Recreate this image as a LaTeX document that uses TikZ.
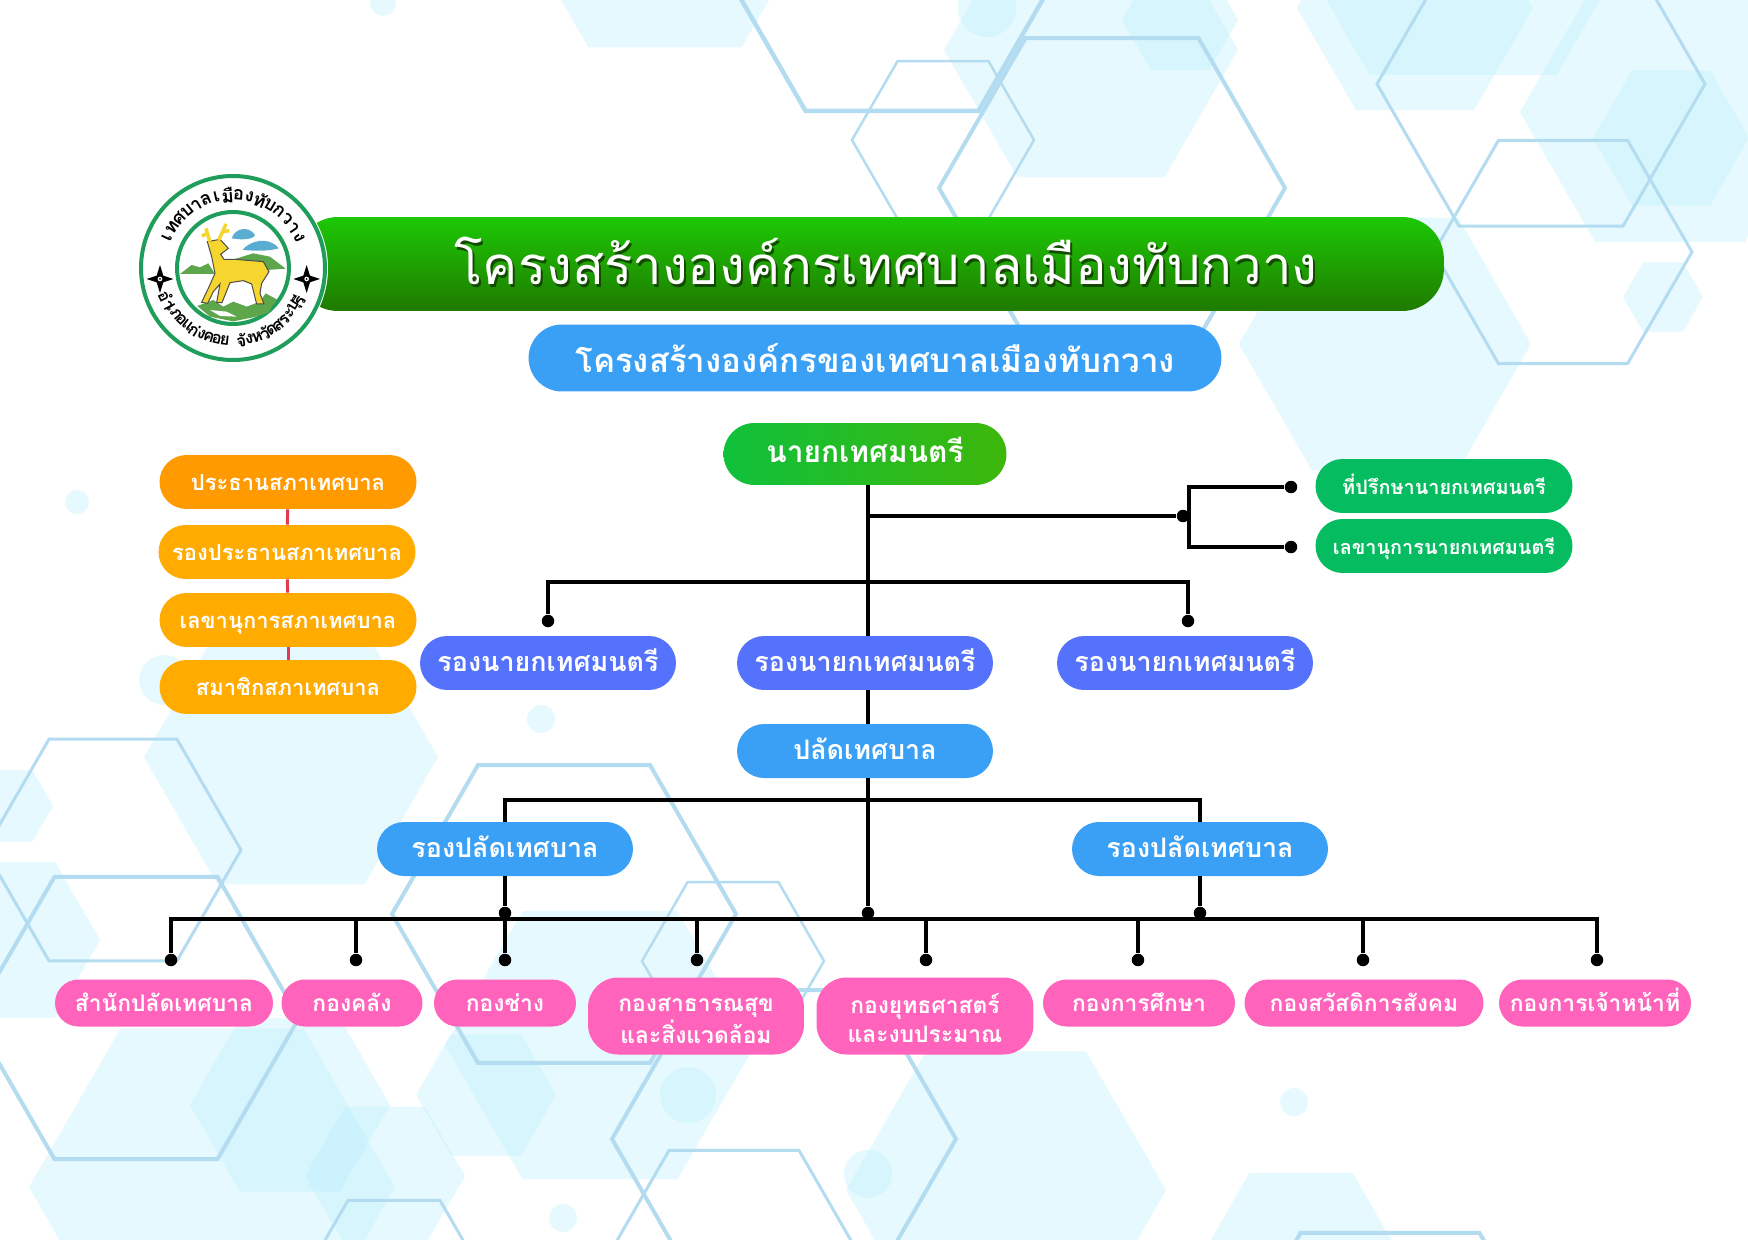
\documentclass[tikz,border=0pt]{standalone}
\usepackage{fontspec}
\newfontfamily\thaifont[Script=Thai]{Loma}
\definecolor{hexLine}{HTML}{B4DCF0}
\definecolor{hexPale}{HTML}{BEF1FD}
\definecolor{ringGreen}{HTML}{1E9E5A}
\definecolor{blueFill}{HTML}{39A0F5}
\definecolor{viceFill}{HTML}{5472FB}
\definecolor{amberFill}{HTML}{FFAB00}
\definecolor{orangeFill}{HTML}{FF9A00}
\definecolor{pinkFill}{HTML}{FF63BC}
\definecolor{greenFill}{HTML}{05BC60}
\definecolor{redLine}{HTML}{E03A50}
\definecolor{barTop}{HTML}{1DC805}
\definecolor{barBottom}{HTML}{1F7A00}
\definecolor{mayorLeft}{HTML}{10C13C}
\definecolor{mayorRight}{HTML}{3DB70A}
\definecolor{hillGreen}{HTML}{5EA64B}
\definecolor{cloudBlue}{HTML}{5AADD0}
\definecolor{deerYellow}{HTML}{F5D52E}
\newcommand{\hexPath}[3]{(#1-#3,#2) -- (#1-#3/2,#2-.866*#3) -- (#1+#3/2,#2-.866*#3) -- (#1+#3,#2) -- (#1+#3/2,#2+.866*#3) -- (#1-#3/2,#2+.866*#3) -- cycle}
\begin{document}
\begin{tikzpicture}[x=0.02cm, y=-0.02cm,
    pillBase/.style={rectangle, rounded corners=0.54cm, text=white, align=center, inner sep=0pt, minimum height=1.08cm},
    pillStyle/.style={pillBase, text height=0.42cm, text depth=0.1cm},
    blueStyle/.style={pillStyle, fill=blueFill, minimum width=5.12cm, font=\thaifont\bfseries\fontsize{15.3}{20}\selectfont},
    viceStyle/.style={blueStyle, fill=viceFill},
    amberStyle/.style={pillStyle, fill=amberFill, minimum width=5.14cm, font=\thaifont\bfseries\fontsize{12.5}{16}\selectfont},
    greenStyle/.style={amberStyle, fill=greenFill, font=\thaifont\bfseries\fontsize{11.3}{16}\selectfont},
    pinkStyle/.style={pillStyle, fill=pinkFill, minimum height=0.94cm, rounded corners=0.47cm, font=\thaifont\bfseries\fontsize{13}{17}\selectfont},
    pinkTall/.style={pillBase, fill=pinkFill, minimum height=1.54cm, rounded corners=0.6cm, font=\thaifont\bfseries\fontsize{13}{16.5}\selectfont},
    dotStyle/.style={circle, fill=black, inner sep=0pt, minimum size=0.25cm},
    lineStyle/.style={draw=black, line width=0.07cm},
    paleHex/.style={fill=hexPale, opacity=0.38},
    starStyle/.style={fill=black},
    ringText/.style={text=black, inner sep=0pt, font=\thaifont\bfseries\fontsize{10.5}{10}\selectfont},
    ringLow/.style={ringText, font=\thaifont\bfseries\fontsize{9.5}{10}\selectfont}]
    \useasboundingbox (0,0) rectangle (1748,1240);
    % background
    \begin{scope}
        \clip (0,0) rectangle (1748,1240);
        \fill[white] (0,0) rectangle (1748,1240);
        \foreach \cx/\cy/\r in {665/-85/153, 1091/50/147, 1180/20/58, 1415/8/118, 1463/-87/187, 1670/112/150, 1671/138/78, 1663/297/40, 1385/344/146,
                                291/757/147, 12/806/41, 10/940/90, 486/1095/70, 290/1105/100, 212/1187/183, 385/1176/80, 600/1045/155, 1006/1190/160, 1301/1262/103}
            \fill[paleHex] \hexPath{\cx}{\cy}{\r};
        \foreach \cx/\cy/\r in {987/8/29, 383/3/13, 77/502/12, 164/680/25, 541/719/14, 688/1095/28, 563/1218/14, 868/1174/24, 1294/1102/14}
            \fill[paleHex] (\cx,\cy) circle[radius=\r];
        \foreach \cx/\cy/\r/\w in {892/-39/173/4.5, 943/140/91/2.5, 1112/188/173/4, 1541/84/164/3, 1563/252/129/3,
                                   113/850/128/3, 136/1018/163/4, 564/914/172/4, 733/961/91/2.5, 784/1139/172/4, 734/1263/130/3, 394/1280/92/3, 1390/1388/179/4}
            \draw[hexLine, line width=\w*0.02cm] \hexPath{\cx}{\cy}{\r};
    \end{scope}

    % title bars
    \node[rectangle, rounded corners=0.84cm, top color=barTop, bottom color=barBottom, minimum width=22.96cm, minimum height=1.88cm] (title_bar) at (870, 264) {};
    \node[text=barBottom!60!black, font=\thaifont\fontsize{30}{36}\selectfont] (title_shadow) at (888, 264) {โครงสร้างองค์กรเทศบาลเมืองทับกวาง};
    \node[text=white, font=\thaifont\fontsize{30}{36}\selectfont] (title_text) at (886, 261) {โครงสร้างองค์กรเทศบาลเมืองทับกวาง};
    \node[pillBase, fill=blueFill, minimum width=13.86cm, minimum height=1.34cm, rounded corners=0.67cm, font=\thaifont\bfseries\fontsize{18.8}{22}\selectfont] (sub_title) at (875, 358) {โครงสร้างองค์กรของเทศบาลเมืองทับกวาง};

    % logo
    \begin{scope}[shift={(233,268)}, yscale=-1]
        \fill[white] (0,0) circle[radius=95];
        \draw[ringGreen, line width=0.08cm] (0,0) circle[radius=92];
        \draw[ringGreen, line width=0.08cm] (0,0) circle[radius=56];
        \foreach \ch [count=\i, evaluate=\i as \a using 155-(\i-1)*8.67] in {เ,ท,ศ,บ,า,ล,เ,มื,อ,ง,ทั,บ,ก,ว,า,ง}
            \node[ringText, rotate=\a-90] (ring_top_\i) at (\a:73) {\ch};
        \foreach \ch [count=\i, evaluate=\i as \a using 206+(\i-1)*6.4] in {อำ,เ,ภ,อ,แ,ก่,ง,ค,อ,ย,{},จั,ง,ห,วั,ด,ส,ร,ะ,บุ,รี}
            \node[ringLow, rotate=\a+90] (ring_low_\i) at (\a:73) {\ch};
    \end{scope}
    \begin{scope}[shift={(120,160)}, scale=0.3333]
        \foreach \sx in {120, 560} {
            \fill[starStyle] (\sx,315) -- (\sx+10,347) -- (\sx+40,357) -- (\sx+10,367) -- (\sx,399) -- (\sx-10,367) -- (\sx-40,357) -- (\sx-10,347) -- cycle;
            \fill[white] (\sx,357) circle[radius=7];
            \fill[black] (\sx,357) circle[radius=3];
        }
        % hills and ground
        \fill[hillGreen] (180,342) -- (215,315) -- (240,322) -- (265,310) -- (285,342) -- cycle;
        \fill[hillGreen] (335,300) -- (400,280) -- (450,290) -- (497,326) -- (440,330) -- cycle;
        \fill[hillGreen] (232,438) -- (280,420) -- (310,440) -- (340,425) -- (380,440) -- (420,425) -- (437,400) -- (470,418) -- (445,458) -- (400,472) -- (340,484) -- (270,470) -- cycle;
        \fill[white] (270,450) -- (320,455) -- (350,470) -- (300,468) -- cycle;
        % clouds
        \fill[cloudBlue] (335,235) .. controls (345,205) and (385,195) .. (405,225) .. controls (400,240) and (360,240) .. (335,235) -- cycle;
        \fill[cloudBlue] (368,270) .. controls (385,245) and (445,225) .. (476,265) .. controls (445,275) and (395,272) .. (368,270) -- cycle;
        % deer
        \draw[black!70, line width=0.02cm, fill=deerYellow] (262,245) -- (300,238) -- (325,265) -- (302,283) -- (312,298) -- (345,298) -- (430,305) -- (447,335) -- (425,370) -- (420,400) -- (432,432) -- (410,432) -- (395,372) -- (370,362) -- (330,368) -- (306,428) -- (290,428) -- (300,372) -- (280,395) -- (263,430) -- (245,427) -- (265,385) -- (285,340) -- (275,290) -- cycle;
        \draw[deerYellow, line width=0.07cm] (270,245) -- (262,220) -- (246,228) (262,220) -- (258,205) (296,240) -- (308,215) -- (318,192) (308,215) -- (328,212);
    \end{scope}

    % mayor and staff
    \node[pillStyle, left color=mayorLeft, right color=mayorRight, minimum width=5.66cm, minimum height=1.24cm, rounded corners=0.62cm, font=\thaifont\bfseries\fontsize{17}{20}\selectfont] (mayor) at (865, 454) {นายกเทศมนตรี};
    \node[greenStyle] (advisor) at (1444, 486) {ที่ปรึกษานายกเทศมนตรี};
    \node[greenStyle] (secretary) at (1444, 546) {เลขานุการนายกเทศมนตรี};
    \node[dotStyle] (dot_adv) at (1183, 516) {};
    \node[dotStyle] (dot_adv_1) at (1291, 487) {};
    \node[dotStyle] (dot_adv_2) at (1291, 547) {};
    \coordinate (adv_join) at (868, 516);
    \coordinate (bracket_mid) at (1189, 516);

    % council
    \node[amberStyle, fill=orangeFill] (council_1) at (288, 482) {ประธานสภาเทศบาล};
    \node[amberStyle] (council_2) at (287, 552) {รองประธานสภาเทศบาล};
    \node[amberStyle] (council_3) at (288, 620) {เลขานุการสภาเทศบาล};
    \node[amberStyle] (council_4) at (288, 687) {สมาชิกสภาเทศบาล};
    \draw[redLine, line width=0.06cm] (council_1) -- (council_2);
    \draw[redLine, line width=0.06cm] (council_2) -- (council_3);
    \draw[redLine, line width=0.06cm] (council_3) -- (council_4);

    % deputy mayors
    \node[viceStyle] (vice_1) at (548, 663) {รองนายกเทศมนตรี};
    \node[viceStyle] (vice_2) at (865, 663) {รองนายกเทศมนตรี};
    \node[viceStyle] (vice_3) at (1185, 663) {รองนายกเทศมนตรี};
    \node[dotStyle] (dot_vice_1) at (548, 621) {};
    \node[dotStyle] (dot_vice_3) at (1188, 621) {};
    \coordinate (vice_join) at (868, 582);

    % clerk
    \node[blueStyle] (clerk) at (865, 751) {ปลัดเทศบาล};
    \node[blueStyle] (deputy_1) at (505, 849) {รองปลัดเทศบาล};
    \node[blueStyle] (deputy_2) at (1200, 849) {รองปลัดเทศบาล};
    \coordinate (clerk_join) at (868, 800);
    \node[dotStyle] (dot_up_1) at (505, 913) {};
    \node[dotStyle] (dot_up_2) at (868, 913) {};
    \node[dotStyle] (dot_up_3) at (1200, 913) {};

    % divisions
    \node[pinkStyle, minimum width=4.36cm] (div_1) at (164, 1003) {สำนักปลัดเทศบาล};
    \node[pinkStyle, minimum width=2.82cm] (div_2) at (352, 1003) {กองคลัง};
    \node[pinkStyle, minimum width=2.84cm] (div_3) at (505, 1003) {กองช่าง};
    \node[pinkTall, minimum width=4.32cm] (div_4) at (696, 1016) {\rule{0pt}{0.58cm}กองสาธารณสุข\\และสิ่งแวดล้อม\rule[-0.12cm]{0pt}{0.12cm}};
    \node[pinkTall, minimum width=4.34cm] (div_5) at (925, 1016) {\rule{0pt}{0.58cm}กองยุทธศาสตร์\\และงบประมาณ\rule[-0.12cm]{0pt}{0.12cm}};
    \node[pinkStyle, minimum width=3.84cm] (div_6) at (1139, 1003) {กองการศึกษา};
    \node[pinkStyle, minimum width=4.78cm] (div_7) at (1364, 1003) {กองสวัสดิการสังคม};
    \node[pinkStyle, minimum width=3.84cm] (div_8) at (1595, 1003) {กองการเจ้าหน้าที่};
    \foreach \name/\dx in {1/171, 2/356, 3/505, 4/697, 5/926, 6/1138, 7/1363, 8/1597}
        \node[dotStyle] (dot_div_\name) at (\dx, 960) {};
    \coordinate (bus_mid) at (868, 919);

    % connectors
    \draw[lineStyle] (dot_up_2 |- mayor.south) -- (dot_up_2 |- vice_2.north);
    \draw[lineStyle] (dot_up_2 |- vice_2.south) -- (dot_up_2 |- clerk.north);
    \draw[lineStyle] (dot_up_2 |- clerk.south) -- (dot_up_2);
    \draw[lineStyle] (adv_join) -- (dot_adv);
    \draw[lineStyle] (dot_adv_1) -| (bracket_mid) |- (dot_adv_2);
    \draw[lineStyle] (dot_vice_1) |- (vice_join) -| (dot_vice_3);
    \draw[lineStyle] (deputy_1.north) |- (clerk_join) -| (deputy_2.north);
    \draw[lineStyle] (deputy_1.south) -- (dot_up_1);
    \draw[lineStyle] (deputy_2.south) -- (dot_up_3);
    \draw[lineStyle] (dot_div_1) |- (bus_mid) -| (dot_div_8);
    \foreach \name in {2,3,...,7}
        \draw[lineStyle] (dot_div_\name) -- (dot_div_\name |- bus_mid);
\end{tikzpicture}
\end{document}
